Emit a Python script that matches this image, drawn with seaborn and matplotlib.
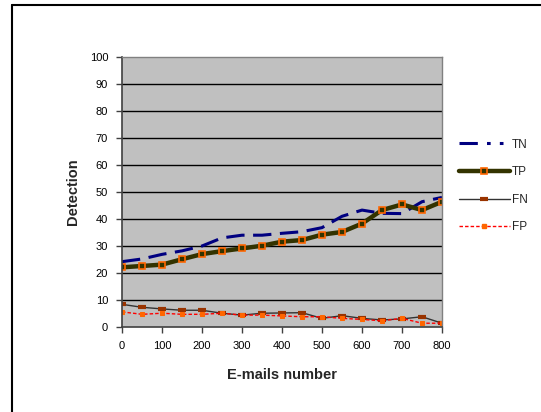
import matplotlib
matplotlib.use("Agg")
import matplotlib.pyplot as plt
from matplotlib.lines import Line2D
import seaborn as sns
import pandas as pd

# E-mails processed and detection counts per outcome
emails = [0, 50, 100, 150, 200, 250, 300, 350, 400, 450, 500, 550, 600, 650, 700, 750, 800]
tn = [24.2, 25.2, 26.9, 28.2, 30.0, 33.0, 34.0, 34.0, 34.7, 35.3, 36.8, 41.0, 43.3, 42.1, 42.0, 46.4, 48.0]
tp = [22.1, 22.6, 23.1, 25.1, 27.0, 28.1, 29.1, 30.1, 31.6, 32.2, 34.2, 35.2, 38.3, 43.3, 45.4, 43.3, 46.4]
fn = [8.4, 7.3, 6.7, 6.2, 6.2, 5.1, 4.4, 5.1, 5.2, 5.3, 3.2, 4.2, 3.2, 2.6, 3.0, 3.8, 1.4]
fp = [5.6, 4.7, 5.1, 4.7, 4.7, 5.1, 4.4, 4.4, 4.1, 3.8, 3.8, 3.2, 2.8, 2.3, 3.2, 1.4, 1.4]
series_names = ["TN", "TP", "FN", "FP"]
x_ticks = [0, 100, 200, 300, 400, 500, 600, 700, 800]
y_ticks = [0, 10, 20, 30, 40, 50, 60, 70, 80, 90, 100]

df = pd.DataFrame({"emails": emails, "TN": tn, "TP": tp, "FN": fn, "FP": fp})

sns.set_theme(style="white")
plt.rcParams["font.family"] = ["Liberation Sans", "DejaVu Sans"]

fig = plt.figure(figsize=(5.41, 4.12), dpi=100)
ax = fig.add_axes([122 / 541, 85 / 412, 320 / 541, 270 / 412])
ax.set_facecolor("#C0C0C0")

styles = {
    "TN": dict(color="#000080", linewidth=2.2, dashes=(6, 2.8)),
    "TP": dict(color="#333300", linewidth=3.2, marker="s", markersize=5,
               markerfacecolor="#333300", markeredgecolor="#FF6600",
               markeredgewidth=1.2),
    "FN": dict(color="#333333", linewidth=1.0, marker="_", markersize=6,
               markeredgecolor="#993300", markeredgewidth=3),
    "FP": dict(color="#FF0000", linewidth=1.0, dashes=(2.5, 1.5), marker="s",
               markersize=3, markerfacecolor="#FF6600",
               markeredgecolor="#FF6600"),
}

for name in series_names:
    sns.lineplot(data=df, x="emails", y=name, ax=ax, label=name,
                 legend=False, **styles[name])

ax.set_xlim(0, 800)
ax.set_ylim(0, 100)
ax.set_xticks(x_ticks)
ax.set_yticks(y_ticks)
ax.set_xticklabels([str(v) for v in x_ticks])
ax.set_yticklabels([str(v) for v in y_ticks])

for v in y_ticks[1:-1]:
    ax.axhline(v, color="#000000", linewidth=1.0, zorder=0.5)

for side in ["top", "right"]:
    ax.spines[side].set_color("#808080")
    ax.spines[side].set_linewidth(1.0)
for side in ["left", "bottom"]:
    ax.spines[side].set_color("#404040")
    ax.spines[side].set_linewidth(1.2)

ax.tick_params(axis="both", which="major", direction="out", length=4,
               width=1, color="#404040", labelsize=8, labelcolor="#000000",
               pad=6)
ax.tick_params(axis="x", left=False, bottom=True)
ax.tick_params(axis="y", left=True, bottom=False)

ax.set_xlabel("E-mails number", fontsize=10.5, fontweight="bold", labelpad=12)
ax.set_ylabel("Detection", fontsize=10.5, fontweight="bold", labelpad=7)

handles = []
for n in series_names:
    st = dict(styles[n])
    if n == "TN":
        st["dashes"] = (6, 3, 1.2, 3, 1.2, 3)
    h = Line2D([0, 1, 2], [0, 0, 0], markevery=[1], **st)
    handles.append(h)
fig.legend(handles, series_names, loc="center left",
           bbox_to_anchor=(453 / 541, 1 - 186 / 412), frameon=False,
           fontsize=8.5, handlelength=4.3, handletextpad=0.2,
           labelspacing=1.32, borderpad=0)

# outer chart frame (top and left edges)
fig.add_artist(Line2D([12 / 541, 1], [1 - 5 / 412, 1 - 5 / 412],
                      transform=fig.transFigure, color="black", linewidth=1.5))
fig.add_artist(Line2D([12 / 541, 12 / 541], [0, 1 - 5 / 412],
                      transform=fig.transFigure, color="black", linewidth=1.5))

fig.savefig("out.png", dpi=100, facecolor="white")
